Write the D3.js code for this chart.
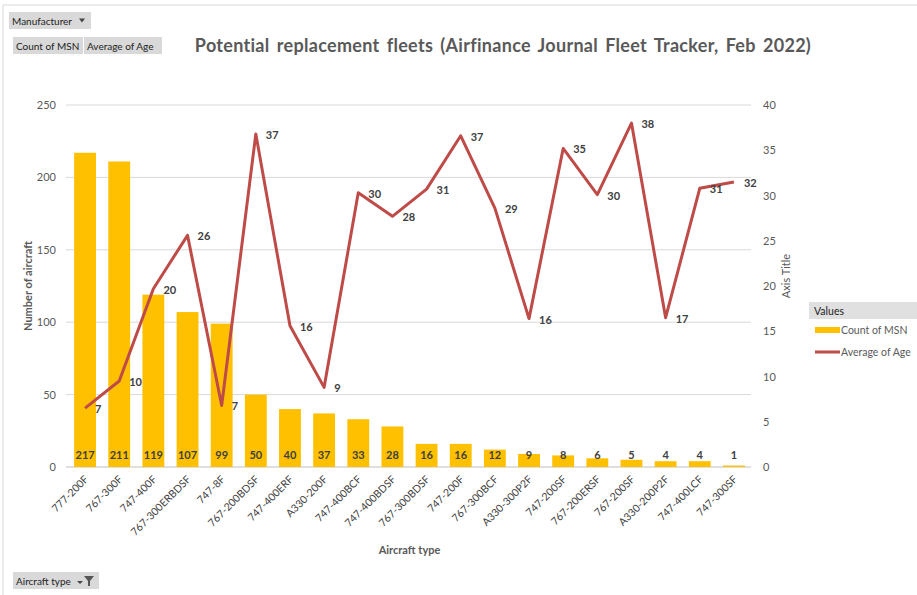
<!DOCTYPE html>
<html><head><meta charset="utf-8">
<script src="https://cdn.jsdelivr.net/npm/d3@7"></script>
<style>
body{margin:0;background:#fff;}
svg{font-family:Lato,"Open Sans",sans-serif;}
</style></head>
<body><svg id="c" width="917" height="595"></svg>
<script>
const categories = ["777-200F","767-300F","747-400F","767-300ERBDSF","747-8F","767-200BDSF","747-400ERF","A330-200F","747-400BCF","747-400BDSF","767-300BDSF","747-200F","767-300BCF","A330-300P2F","747-200SF","767-200ERSF","767-200SF","A330-200P2F","747-400LCF","747-300SF"];
const countMSN = [217,211,119,107,99,50,40,37,33,28,16,16,12,9,8,6,5,4,4,1];
const avgAge = [6.5,9.5,19.7,25.6,6.8,36.8,15.6,8.8,30.3,27.7,30.7,36.6,28.6,16.4,35.2,30.1,38.0,16.5,30.8,31.5];
const leftTicks = [0,50,100,150,200,250];
const rightTicks = [0,5,10,15,20,25,30,35,40];

const svg = d3.select("#c");
const M = {l:68, r:751, t:105, b:467};
const x = d3.scaleBand().domain(categories).range([M.l, M.r]).paddingInner(0.36).paddingOuter(0.18);
const yL = d3.scaleLinear().domain([0,250]).range([M.b, M.t]);
const yR = d3.scaleLinear().domain([0,40]).range([M.b, M.t]);
const grey = "#595959";

// border
svg.append("path").attr("d","M3,595V5H917").attr("fill","none").attr("stroke","#d9d9d9");

// gridlines
svg.append("g").selectAll("line").data(leftTicks).join("line")
  .attr("x1",M.l-2).attr("x2",M.r).attr("y1",d=>yL(d)).attr("y2",d=>yL(d))
  .attr("stroke",d=>d===0?"#bfbfbf":"#d9d9d9").attr("stroke-width",1);

// left axis
const axL = svg.append("g").attr("transform",`translate(${M.l-12},0)`)
  .call(d3.axisLeft(yL).tickValues(leftTicks).tickSize(0).tickPadding(0));
axL.select(".domain").remove();
axL.selectAll("text").attr("fill",grey).attr("font-size",11).attr("font-family","Lato");
// right axis
const axR = svg.append("g").attr("transform",`translate(${M.r+12},0)`)
  .call(d3.axisRight(yR).tickValues(rightTicks).tickSize(0).tickPadding(0));
axR.select(".domain").remove();
axR.selectAll("text").attr("fill",grey).attr("font-size",11).attr("font-family","Lato");

// x axis labels
const axX = svg.append("g").attr("transform",`translate(0,${M.b})`)
  .call(d3.axisBottom(x).tickSize(0).tickPadding(0));
axX.select(".domain").remove();
axX.selectAll("text").attr("fill","#404040").attr("font-size",10.5).attr("font-family","Lato")
  .attr("text-anchor","end").attr("dy",0).attr("y",0)
  .attr("transform","translate(4,13) rotate(-45)");

// bars
svg.append("g").selectAll("rect").data(categories).join("rect")
  .attr("x",d=>x(d)).attr("width",x.bandwidth())
  .attr("y",(d,i)=>yL(countMSN[i])).attr("height",(d,i)=>M.b-yL(countMSN[i]))
  .attr("fill","#FFC000");
svg.append("g").selectAll("text").data(categories).join("text")
  .attr("x",d=>x(d)+x.bandwidth()/2).attr("y",M.b-8)
  .attr("text-anchor","middle").attr("font-size",11).attr("font-weight","bold")
  .attr("fill","#404040").text((d,i)=>countMSN[i]);

// line
const line = d3.line().x((d,i)=>x(categories[i])+x.bandwidth()/2).y(d=>yR(d));
svg.append("path").datum(avgAge).attr("d",line).attr("fill","none")
  .attr("stroke","#BE4B48").attr("stroke-width",3).attr("stroke-linejoin","round");
svg.append("g").selectAll("text").data(avgAge).join("text")
  .attr("x",(d,i)=>x(categories[i])+x.bandwidth()/2+10).attr("y",d=>yR(d)+5)
  .attr("font-size",11).attr("font-weight","bold").attr("fill","#404040")
  .text(d=>Math.round(d));

// titles
svg.append("text").attr("x",503).attr("y",52).attr("text-anchor","middle")
  .attr("font-size",18).attr("font-weight","bold").attr("fill",grey)
  .attr("letter-spacing",0.3).attr("word-spacing",2.5)
  .text("Potential replacement fleets (Airfinance Journal Fleet Tracker, Feb 2022)");
svg.append("text").attr("transform",`translate(32,${(M.t+M.b)/2}) rotate(-90)`)
  .attr("text-anchor","middle").attr("font-size",11).attr("font-weight","bold").attr("fill",grey)
  .text("Number of aircraft");
svg.append("text").attr("x",(M.l+M.r)/2).attr("y",554).attr("text-anchor","middle")
  .attr("font-size",11).attr("font-weight","bold").attr("fill",grey).text("Aircraft type");
svg.append("text").attr("transform",`translate(790,276) rotate(-90)`)
  .attr("text-anchor","middle").attr("font-size",11).attr("fill",grey).text("Axis Title");

// legend
const lg = svg.append("g");
lg.append("rect").attr("x",809).attr("y",302).attr("width",108).attr("height",17).attr("fill","#e0e0e0");
lg.append("text").attr("x",814).attr("y",315).attr("font-size",10.5).attr("fill","#222").text("Values");
lg.append("rect").attr("x",815).attr("y",327).attr("width",25).attr("height",6).attr("fill","#FFC000");
lg.append("text").attr("x",841).attr("y",334).attr("font-size",10.5).attr("fill",grey).text("Count of MSN");
lg.append("line").attr("x1",815).attr("x2",840).attr("y1",352).attr("y2",352).attr("stroke","#BE4B48").attr("stroke-width",3);
lg.append("text").attr("x",841).attr("y",356).attr("font-size",10.5).attr("fill",grey).text("Average of Age");

// pivot buttons
function btn(x0,y0,w,label){
  svg.append("rect").attr("x",x0).attr("y",y0).attr("width",w).attr("height",17).attr("fill","#d9d9d9");
  svg.append("text").attr("x",x0+3).attr("y",y0+12.5).attr("font-size",10).attr("fill","#222").text(label);
}
btn(9,12,82,"Manufacturer");
svg.append("path").attr("d","M79,18.5l6,0l-3,4z").attr("fill","#444");
btn(13,37,70,"Count of MSN");
btn(84,37,78,"Average of Age");
btn(13,572,86,"Aircraft type");
svg.append("path").attr("d","M77,581l6,0l-3,3z").attr("fill","#444");
svg.append("path").attr("d","M84,576h10l-4,5v5h-2v-5z").attr("fill","#555");
</script></body></html>
